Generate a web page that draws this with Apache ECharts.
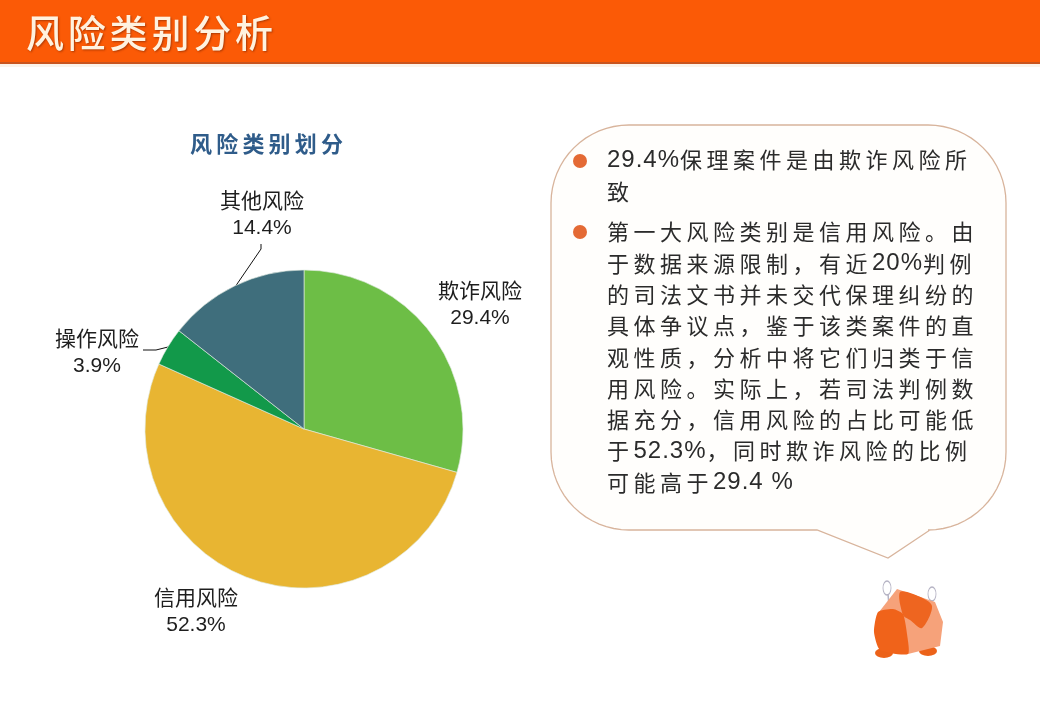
<!DOCTYPE html>
<html><head><meta charset="utf-8">
<script src="https://cdn.jsdelivr.net/npm/echarts@6/dist/echarts.min.js"></script>
<style>html,body{margin:0;padding:0;background:#fff}#c{width:1040px;height:720px}</style>
</head><body><div id="c"></div>
<script>
// ---- data ----
const categories = ['欺诈风险', '信用风险', '操作风险', '其他风险'];
const shares = [29.4, 52.3, 3.9, 14.4];
const pageTitle = '风险类别分析';
const chartTitle = '风险类别划分';
const bullet1Lines = ['29.4%保理案件是由欺诈风险所', '致'];
const bullet2Lines = [
  '第一大风险类别是信用风险。由',
  '于数据来源限制，有近20%判例',
  '的司法文书并未交代保理纠纷的',
  '具体争议点，鉴于该类案件的直',
  '观性质，分析中将它们归类于信',
  '用风险。实际上，若司法判例数',
  '据充分，信用风险的占比可能低',
  '于52.3%，同时欺诈风险的比例',
  '可能高于29.4 %'
];

// ---- styles ----
const sliceColors = ['#6DBE46', '#E8B532', '#12994A', '#3F6E7C'];
const CJK = '"Noto Sans CJK SC",sans-serif';

const mctx = document.createElement('canvas').getContext('2d');
function isLatin(ch) { return ch.charCodeAt(0) < 0x2000; }
function measure(ch, size, fam, weight) {
  mctx.font = (weight || 'normal') + ' ' + size + 'px ' + fam;
  return mctx.measureText(ch).width;
}
function spaced(str, x, y, o) {
  const els = [];
  let cx = x;
  for (const ch of str) {
    const lat = isLatin(ch);
    const size = lat ? (o.latSize || o.size) : o.size;
    const fam = lat ? '"Liberation Sans",sans-serif' : CJK;
    const sp = lat ? (o.latSpacing != null ? o.latSpacing : o.spacing) : o.spacing;
    if (ch !== ' ') {
      const st = {
        text: ch, fontSize: size, fontFamily: fam, fontWeight: o.weight || 'normal',
        fill: o.color, verticalAlign: 'middle', align: 'left'
      };
      if (o.shadow) {
        st.textShadowColor = o.shadow; st.textShadowBlur = 2;
        st.textShadowOffsetX = 1; st.textShadowOffsetY = 1;
      }
      els.push({ type: 'text', x: cx, y: y, silent: true, style: st });
    }
    cx += measure(ch, size, fam, o.weight) + sp;
  }
  return els;
}

function bubblePoints(x0, y0, x1, y1, r, px0, px1, ptx, pty) {
  const pts = [];
  function arc(cx, cy, a0, a1) {
    const n = 16;
    for (let i = 0; i <= n; i++) {
      const a = a0 + (a1 - a0) * i / n;
      pts.push([cx + r * Math.cos(a), cy + r * Math.sin(a)]);
    }
  }
  arc(x1 - r, y0 + r, -Math.PI / 2, 0);
  arc(x1 - r, y1 - r, 0, Math.PI / 2);
  pts.push([px1, y1], [ptx, pty], [px0, y1]);
  arc(x0 + r, y1 - r, Math.PI / 2, Math.PI);
  arc(x0 + r, y0 + r, Math.PI, Math.PI * 1.5);
  return pts;
}
function ell(cx, cy, rx, ry, style) {
  return { type: 'circle', x: cx, y: cy, scaleX: rx / ry, scaleY: 1, shape: { cx: 0, cy: 0, r: ry }, style: style, silent: true };
}

const graphics = [];
graphics.push({ type: 'rect', shape: { x: 0, y: 0, width: 1040, height: 63 }, style: { fill: '#FB5A06' }, silent: true });
graphics.push({ type: 'rect', shape: { x: 0, y: 62, width: 1040, height: 2 }, style: { fill: '#C9541E' }, silent: true });
graphics.push({ type: 'rect', shape: { x: 0, y: 64, width: 1040, height: 3 }, style: { fill: '#FBF3EA' }, silent: true });
graphics.push(...spaced(pageTitle, 26, 33, { size: 38, spacing: 3.8, color: '#FFF2DF', weight: 500, shadow: 'rgba(80,20,0,0.45)' }));
graphics.push(...spaced(chartTitle, 190, 144, { size: 22, spacing: 4.2, color: '#2F5C8A', weight: 'bold' }));
graphics.push({
  type: 'polygon', silent: true,
  shape: { points: bubblePoints(551, 125, 1006, 530, 78, 817, 930, 888, 558) },
  style: { fill: '#FFFEFC', stroke: '#D8B49C', lineWidth: 1.3 }
});
[161, 232].forEach(function (by) {
  graphics.push({ type: 'circle', shape: { cx: 580, cy: by, r: 7 }, style: { fill: '#E46A35' }, silent: true });
});
const tOpt = { size: 22, latSize: 24, spacing: 4.5, latSpacing: 1, color: '#2b2b2b' };
bullet1Lines.forEach(function (ln, i) { graphics.push(...spaced(ln, 607, 160 + i * 31.3, tOpt)); });
bullet2Lines.forEach(function (ln, i) { graphics.push(...spaced(ln, 607, 232 + i * 31.3, tOpt)); });

// mascot
const antenna = { fill: 'none', stroke: '#B5B3C4', lineWidth: 1.5 };
graphics.push({ type: 'line', shape: { x1: 888, y1: 594, x2: 889, y2: 606 }, style: { stroke: '#B5B3C4', lineWidth: 1.5 }, silent: true });
graphics.push(ell(887, 588, 4, 7, antenna));
graphics.push({ type: 'line', shape: { x1: 931, y1: 600, x2: 927, y2: 608 }, style: { stroke: '#B5B3C4', lineWidth: 1.5 }, silent: true });
graphics.push(ell(932, 594, 4, 7, antenna));
graphics.push(ell(884, 653, 9, 5, { fill: '#EC6219' }));
graphics.push(ell(928, 651, 9, 5, { fill: '#EC6219' }));
graphics.push({ type: 'polygon', silent: true,
  shape: { points: [[879, 612], [897, 589], [935, 602], [943, 622], [940, 646], [908, 654], [880, 648]] },
  style: { fill: '#F6A27A' } });
graphics.push({ type: 'polygon', silent: true, shape: { smooth: 0.3,
  points: [[900, 592], [918, 596], [932, 606], [922, 628], [910, 620], [903, 615]] },
  style: { fill: '#EE6520' } });
graphics.push({ type: 'polygon', silent: true, shape: { smooth: 0.2,
  points: [[878, 612], [893, 609], [903, 614], [907, 634], [908, 654], [880, 650], [874, 632]] },
  style: { fill: '#F0631A' } });

const labelSpots = [[480, 304], [196, 611], [97, 352], [262, 214]];
const leaderLines = [null, null, [[168, 347], [156, 350], [143, 350]], [[235, 287], [261, 249], [261, 244]]];

const chart = echarts.init(document.getElementById('c'), null, { renderer: 'canvas' });
chart.setOption({
  backgroundColor: '#ffffff',
  animation: false,
  graphic: { elements: graphics },
  series: [{
    type: 'pie',
    center: [304, 429],
    radius: 159,
    startAngle: 90,
    clockwise: true,
    avoidLabelOverlap: false,
    emphasis: { disabled: true },
    itemStyle: { borderColor: 'rgba(225,235,225,0.8)', borderWidth: 0.8 },
    label: {
      show: true,
      position: 'outside',
      formatter: '{a|{b}}\n{n|{c}%}',
      align: 'center',
      rich: {
        a: { fontSize: 21, fontFamily: CJK, color: '#1e1e1e', lineHeight: 28, align: 'center' },
        n: { fontSize: 21, fontFamily: '"Liberation Sans",sans-serif', color: '#1e1e1e', lineHeight: 28, align: 'center' }
      }
    },
    labelLine: { show: true, lineStyle: { color: '#111', width: 1 } },
    labelLayout: function (p) {
      const s = labelSpots[p.dataIndex];
      const res = { x: s[0], y: s[1], align: 'center', verticalAlign: 'middle' };
      if (leaderLines[p.dataIndex]) res.labelLinePoints = leaderLines[p.dataIndex];
      return res;
    },
    data: categories.map(function (c, i) {
      return {
        name: c, value: shares[i],
        itemStyle: { color: sliceColors[i] },
        labelLine: { show: !!leaderLines[i] }
      };
    })
  }]
});
</script></body></html>
